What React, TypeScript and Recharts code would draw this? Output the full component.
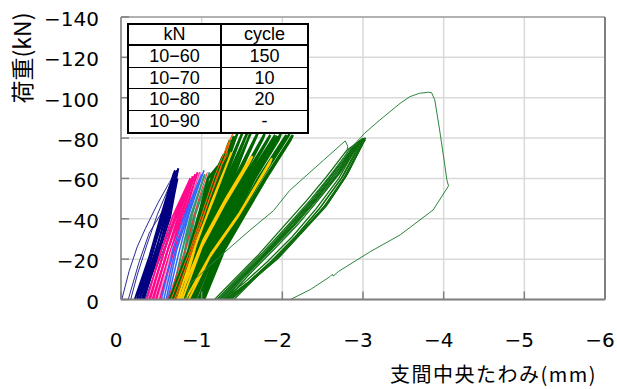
import { CartesianGrid, Line, LineChart, ReferenceLine, XAxis, YAxis } from "recharts";

// deflection (mm) and load (kN), as magnitudes; drawn as negatives
type Loop = [number, number][];

const xTicks = [0, -1, -2, -3, -4, -5, -6];
const yTicks = [0, -20, -40, -60, -80, -100, -120, -140];

const tableLoads = ["10−60", "10−70", "10−80", "10−90"];
const tableCycles = ["150", "10", "20", "-"];

const navyThin: Loop[] = [
  [[0.01, 0], [0.1, 14], [0.2, 26], [0.3, 35], [0.46, 48], [0.6, 58], [0.69, 64], [0.66, 62], [0.45, 42], [0.32, 27], [0.2, 12], [0.12, 0]],
  [[0.09, 0], [0.22, 18], [0.35, 33], [0.55, 46], [0.69, 63]],
  [[0.26, 0], [0.44, 18], [0.62, 36], [0.78, 51], [0.9, 61]],
  [[0.3, 0], [0.48, 20], [0.66, 38], [0.82, 53], [0.93, 62]],
];

const navyLoops: Loop[] = [
  [[0.17, 0], [0.38, 24.5], [0.5, 41], [0.67, 64], [0.65, 62], [0.5, 42], [0.4, 28], [0.2, 0]],
  [[0.2, 0], [0.4, 24.5], [0.53, 41], [0.68, 63], [0.66, 61], [0.52, 42], [0.42, 27], [0.23, 0]],
  [[0.23, 0], [0.43, 24.5], [0.56, 41], [0.7, 64], [0.68, 62], [0.55, 42], [0.45, 26], [0.26, 0]],
  [[0.26, 0], [0.46, 24.5], [0.59, 41], [0.71, 65], [0.69, 62], [0.58, 42], [0.47, 25], [0.28, 0]],
  [[0.28, 0], [0.48, 24.5], [0.61, 41], [0.66, 52], [0.7, 60]],
];

const pinkLoops: Loop[] = [
  [[0.32, 0], [0.5, 24.5], [0.64, 41], [0.86, 60], [0.84, 58], [0.66, 40], [0.52, 22], [0.35, 0]],
  [[0.36, 0], [0.54, 24.5], [0.68, 41], [0.89, 61], [0.87, 59], [0.7, 40], [0.56, 22], [0.39, 0]],
  [[0.4, 0], [0.58, 24.5], [0.73, 41], [0.92, 62], [0.9, 60], [0.74, 40], [0.6, 22], [0.43, 0]],
  [[0.44, 0], [0.62, 24.5], [0.77, 41], [0.95, 63], [0.93, 61], [0.78, 40], [0.64, 22], [0.47, 0]],
  [[0.48, 0], [0.66, 24.5], [0.81, 41], [0.98, 63]],
];

const lightPinkLoops: Loop[] = [
  [[0.46, 0], [0.63, 24.5], [0.8, 41], [0.99, 63], [0.97, 61], [0.82, 42], [0.66, 22], [0.5, 0]],
];

const lightBlueLoops: Loop[] = [
  [[0.5, 0], [0.64, 24.5], [0.78, 41], [1.0, 62], [0.98, 60], [0.8, 41], [0.66, 22], [0.53, 0]],
  [[0.56, 0], [0.69, 24.5], [0.82, 41], [1.03, 64], [1.01, 62], [0.84, 42], [0.71, 22], [0.58, 0]],
];

const seaGreenLoops: Loop[] = [
  [[0.62, 0], [0.76, 24.5], [0.86, 41], [1.04, 62], [1.02, 60], [0.88, 42], [0.78, 22], [0.64, 0]],
  [[0.66, 0], [0.8, 24.5], [0.9, 41], [1.1, 63], [1.08, 61], [0.92, 42], [0.82, 22], [0.68, 0]],
  [[0.72, 0], [0.85, 24.5], [0.95, 41], [1.16, 64], [1.14, 62], [0.97, 42], [0.87, 22], [0.74, 0]],
  [[0.78, 0], [0.9, 24.5], [1.0, 41], [1.22, 63]],
];

const redLoops: Loop[] = [[[0.58, 0], [0.8, 25], [0.95, 48], [1.07, 63]]];

const blueLoops: Loop[] = [
  [[0.78, 0], [1.1, 25], [1.3, 40], [1.55, 56], [1.7, 63]],
  [[0.62, 0], [0.86, 25], [1.04, 45], [1.16, 58]],
];

const darkGreenLoops: Loop[] = [
  [[0.6, 0], [0.84, 24.5], [0.96, 41], [1.08, 60], [1.2, 66], [1.17, 64], [1.1, 58], [0.99, 41], [0.87, 24.5], [0.64, 0]],
  [[0.64, 0], [0.88, 24.5], [1.0, 41], [1.13, 60], [1.28, 72], [1.25, 70], [1.16, 60], [1.03, 41], [0.91, 24.5], [0.68, 0]],
  [[0.66, 0], [0.9, 24.5], [1.03, 41], [1.18, 60], [1.35, 79], [1.32, 76], [1.21, 60], [1.06, 41], [0.93, 24.5], [0.7, 0]],
  [[0.7, 0], [0.93, 24.5], [1.07, 41], [1.22, 60], [1.45, 83], [1.42, 80], [1.25, 60], [1.1, 41], [0.96, 24.5], [0.74, 0]],
  [[0.72, 0], [0.95, 24.5], [1.1, 41], [1.26, 60], [1.52, 84], [1.49, 81], [1.29, 60], [1.13, 41], [0.98, 24.5], [0.76, 0]],
  [[0.75, 0], [0.98, 24.5], [1.14, 41], [1.31, 60], [1.58, 84], [1.55, 81], [1.34, 60], [1.17, 41], [1.01, 24.5], [0.79, 0]],
  [[0.78, 0], [1.01, 24.5], [1.18, 41], [1.36, 60], [1.62, 83.5], [1.59, 81], [1.39, 60], [1.21, 41], [1.04, 24.5], [0.82, 0]],
  [[0.8, 0], [1.04, 24.5], [1.22, 41], [1.41, 60], [1.7, 83], [1.67, 80], [1.44, 60], [1.25, 41], [1.07, 24.5], [0.84, 0]],
  [[0.83, 0], [1.07, 24.5], [1.26, 41], [1.47, 60], [1.78, 82], [1.75, 79], [1.5, 60], [1.29, 41], [1.1, 24.5], [0.87, 0]],
  [[0.86, 0], [1.1, 24.5], [1.3, 41], [1.52, 60], [1.85, 81.5], [1.82, 79], [1.55, 60], [1.33, 41], [1.13, 24.5], [0.9, 0]],
  [[0.88, 0], [1.13, 24.5], [1.34, 41], [1.57, 60], [1.91, 81.5], [1.88, 79], [1.6, 60], [1.37, 41], [1.16, 24.5], [0.92, 0]],
  [[0.92, 0], [1.17, 24.5], [1.39, 41], [1.63, 60], [1.98, 82], [1.95, 79], [1.66, 60], [1.42, 41], [1.2, 24.5], [0.96, 0]],
  [[0.96, 0], [1.21, 24.5], [1.44, 41], [1.7, 60], [2.05, 81.5], [2.02, 79], [1.73, 60], [1.47, 41], [1.24, 24.5], [1.0, 0]],
  [[1.0, 0], [1.26, 24.5], [1.5, 41], [1.78, 60], [2.13, 81.5], [2.1, 79], [1.8, 60], [1.52, 41], [1.28, 24.5], [1.03, 0]],
  [[0.68, 0], [0.91, 24.5], [1.05, 41], [1.2, 60], [1.4, 81], [1.38, 78], [1.23, 60]],
  [[0.9, 0], [1.15, 24.5], [1.36, 41], [1.6, 60], [1.94, 81]],
  [[0.98, 0], [1.23, 24.5], [1.47, 41], [1.74, 60], [2.09, 82]],
];

const yellowLoops: Loop[] = [
  [[0.7, 0], [0.95, 30], [1.15, 50], [1.37, 73], [1.34, 70], [1.12, 48], [0.93, 27], [0.74, 0]],
  [[0.72, 0], [1.02, 29.5], [1.3, 50], [1.6, 70], [1.63, 71], [1.58, 67], [1.28, 47], [1.0, 26], [0.76, 0]],
  [[0.8, 0], [1.12, 23], [1.47, 43], [1.87, 70], [1.84, 67], [1.45, 41], [1.1, 21], [0.84, 0]],
];

const orangeLoops: Loop[] = [
  [[0.62, 0], [0.85, 24], [1.0, 42], [1.15, 60], [1.25, 70], [1.39, 82.5], [1.36, 80], [1.3, 75], [1.32, 72], [1.25, 67], [1.22, 63], [1.05, 45], [0.9, 28], [0.68, 0]],
  [[0.66, 0], [0.88, 24], [1.03, 42], [1.18, 60], [1.28, 70], [1.35, 78], [1.3, 72]],
];

const bandLoops: Loop[] = [
  [[1.16, 0], [1.39, 9.5], [1.7, 22], [2.01, 36], [2.3, 49], [2.55, 61], [2.8, 74], [2.97, 79], [2.94, 77], [2.7, 60], [2.42, 45], [2.12, 31], [1.82, 19], [1.52, 8], [1.26, 0]],
  [[1.19, 0], [1.43, 10], [1.75, 23], [2.05, 36], [2.34, 49], [2.59, 61], [2.83, 74], [3.0, 80], [2.97, 78], [2.73, 60], [2.46, 45], [2.16, 31], [1.86, 19], [1.56, 8], [1.29, 0]],
  [[1.2, 0], [1.45, 10], [1.77, 23], [2.07, 36], [2.36, 49], [2.6, 61], [2.85, 74], [3.01, 79.5], [2.98, 77.5], [2.75, 61], [2.48, 46], [2.18, 32], [1.88, 19.5], [1.58, 8.5], [1.3, 0]],
  [[1.22, 0], [1.47, 10.5], [1.79, 23.5], [2.09, 36.5], [2.38, 49], [2.62, 61], [2.86, 74], [3.02, 79], [2.99, 77], [2.76, 60], [2.5, 45], [2.2, 32], [1.9, 19.5], [1.6, 9], [1.32, 0]],
  [[1.24, 0], [1.49, 10.8], [1.81, 24], [2.11, 37], [2.4, 50], [2.64, 61.5], [2.88, 75], [3.02, 79.5], [2.99, 77], [2.78, 61], [2.52, 46], [2.22, 33], [1.92, 20], [1.62, 9.5], [1.34, 0]],
  [[1.25, 0], [1.5, 11], [1.82, 24], [2.13, 37], [2.42, 50], [2.66, 62], [2.89, 75], [3.02, 80], [3.0, 78], [2.79, 61], [2.54, 46], [2.24, 33], [1.94, 20], [1.64, 10], [1.35, 0]],
  [[1.27, 0], [1.52, 11.2], [1.84, 24.3], [2.15, 37.3], [2.44, 50.5], [2.68, 62], [2.9, 75.5], [3.03, 80], [3.0, 78], [2.81, 62.5], [2.57, 48], [2.27, 34.5], [1.97, 21.5], [1.67, 11], [1.37, 0]],
  [[1.28, 0], [1.54, 11.5], [1.86, 24.5], [2.17, 37.5], [2.46, 51], [2.69, 62], [2.92, 76], [3.03, 79]],
  [[1.31, 0], [1.58, 12], [1.9, 25], [2.21, 38], [2.5, 52], [2.72, 63], [2.95, 77], [3.03, 80], [3.01, 78], [2.83, 64], [2.6, 50], [2.3, 36], [2.0, 23], [1.7, 12], [1.4, 0]],
];

const outerLoops: Loop[] = [
  [[0.8, 0], [0.86, 8], [1.27, 22.9], [1.6, 34.4], [1.89, 44], [2.09, 54], [2.51, 69], [2.78, 78.6], [2.81, 76], [2.8, 73], [2.74, 68], [2.62, 60], [2.4, 47], [2.1, 33], [1.8, 21], [1.5, 10], [1.25, 0]],
  [[2.1, 0], [2.35, 5], [2.59, 11.3], [2.62, 12.5], [2.63, 11.6], [2.7, 14], [3.09, 23.7], [3.46, 32], [3.87, 44.4], [4.06, 56.3], [4.04, 59.2], [4.01, 67.7], [3.95, 84], [3.89, 98.9], [3.85, 102.5], [3.81, 102.7], [3.7, 102.2], [3.58, 100.5], [3.46, 97.2], [3.21, 89], [3.02, 82.4], [2.85, 75], [2.6, 62], [2.3, 47], [2.0, 33], [1.7, 20], [1.4, 8], [1.2, 0]],
];

const groups = [
  { name: "navyThin", loops: navyThin, color: "#2a2a96", width: 1 },
  { name: "navy", loops: navyLoops, color: "#000080", width: 2 },
  { name: "pink", loops: pinkLoops, color: "#ff0a8c", width: 2 },
  { name: "lightPink", loops: lightPinkLoops, color: "#ff99cc", width: 1.5 },
  { name: "lightBlue", loops: lightBlueLoops, color: "#3366ff", width: 1.5 },
  { name: "seaGreen", loops: seaGreenLoops, color: "#339966", width: 2 },
  { name: "red", loops: redLoops, color: "#ff3030", width: 1 },
  { name: "blue", loops: blueLoops, color: "#0000ff", width: 1 },
  { name: "darkGreen", loops: darkGreenLoops, color: "#006600", width: 2.5 },
  { name: "yellow", loops: yellowLoops, color: "#ffcc00", width: 2 },
  { name: "orange", loops: orangeLoops, color: "#ff6600", width: 1 },
  { name: "band", loops: bandLoops, color: "#0e6e0e", width: 1.3 },
  { name: "outer", loops: outerLoops, color: "#2e8540", width: 1 },
];

const toPoints = (loop: Loop) => loop.map(([d, p]) => ({ x: -d, y: -p }));
const fmt = (v: number) => String(v).replace("-", "−");

const tickFont = { fontFamily: "'DejaVu Sans', sans-serif", fontSize: 20, fill: "#000" };

const XTick = (props: any) => {
  const { x, y, payload } = props;
  return (
    <g>
      <line x1={x} y1={y} x2={x} y2={y - 8} stroke="#808080" strokeWidth={1.5} />
      <text x={x - 5} y={y + 40} textAnchor="middle" dominantBaseline="central" {...tickFont}>
        {fmt(payload.value)}
      </text>
    </g>
  );
};

const YTick = (props: any) => {
  const { x, y, payload } = props;
  return (
    <g>
      <line x1={x} y1={y} x2={x + 8} y2={y} stroke="#808080" strokeWidth={1.5} />
      <text x={x - 22} y={y + 2} textAnchor="end" dominantBaseline="central" {...tickFont}>
        {fmt(payload.value)}
      </text>
    </g>
  );
};

const cell = { border: "1px solid #000", padding: 0, textAlign: "center" as const, lineHeight: "19px" };

export default function App() {
  return (
    <div style={{ position: "absolute", left: 0, top: 0, width: 617, height: 389, background: "#fff" }}>
      <LineChart width={617} height={389} margin={{ top: 17, right: 12, bottom: 49.5, left: 61 }}>
        <CartesianGrid stroke="#d9d9d9" strokeWidth={1.5} />
        <XAxis
          type="number"
          dataKey="x"
          domain={[-6, 0]}
          ticks={xTicks}
          reversed
          height={40}
          tickSize={0}
          tickMargin={0}
          tick={<XTick />}
          axisLine={{ stroke: "#808080", strokeWidth: 2 }}
          interval={0}
        />
        <YAxis
          type="number"
          dataKey="y"
          domain={[-140, 0]}
          ticks={yTicks}
          reversed
          width={60}
          tickSize={0}
          tickMargin={0}
          tick={<YTick />}
          axisLine={{ stroke: "#808080", strokeWidth: 1.5 }}
          interval={0}
        />
        <ReferenceLine y={-140} stroke="#a0a0a0" strokeWidth={1.5} />
        <ReferenceLine x={-6} stroke="#808080" strokeWidth={2} />
        {groups.map((g) =>
          g.loops.map((loop, i) => (
            <Line
              key={`${g.name}-${i}`}
              data={toPoints(loop)}
              dataKey="y"
              type="linear"
              stroke={g.color}
              strokeWidth={g.width}
              dot={false}
              activeDot={false}
              isAnimationActive={false}
            />
          ))
        )}
      </LineChart>

      <table
        style={{
          position: "absolute",
          left: 127,
          top: 23,
          width: 182,
          height: 111,
          borderCollapse: "collapse",
          border: "2px solid #000",
          background: "#fff",
          fontFamily: "'Liberation Sans', Arial, sans-serif",
          fontSize: 18,
        }}
      >
        <tbody>
          <tr style={{ height: 21 }}>
            <td style={{ ...cell, borderBottom: "2px solid #000", borderRight: "2px solid #000", width: 91 }}>kN</td>
            <td style={{ ...cell, borderBottom: "2px solid #000" }}>cycle</td>
          </tr>
          {tableLoads.map((l, i) => (
            <tr key={l}>
              <td style={{ ...cell, borderRight: "2px solid #000" }}>{l}</td>
              <td style={cell}>{tableCycles[i]}</td>
            </tr>
          ))}
        </tbody>
      </table>

      <div
        style={{
          position: "absolute",
          left: 21,
          top: 58,
          transform: "translate(-50%, -50%) rotate(-90deg)",
          whiteSpace: "nowrap",
          fontFamily: "'Noto Sans CJK JP', sans-serif",
          fontSize: 23,
          lineHeight: "26px",
        }}
      >
        荷重(kN)
      </div>
      <div
        style={{
          position: "absolute",
          right: 20,
          top: 363,
          whiteSpace: "nowrap",
          fontFamily: "'Noto Sans CJK JP', sans-serif",
          fontSize: 20,
          lineHeight: "22px",
          letterSpacing: 1.5,
        }}
      >
        支間中央たわみ(mm)
      </div>
    </div>
  );
}
